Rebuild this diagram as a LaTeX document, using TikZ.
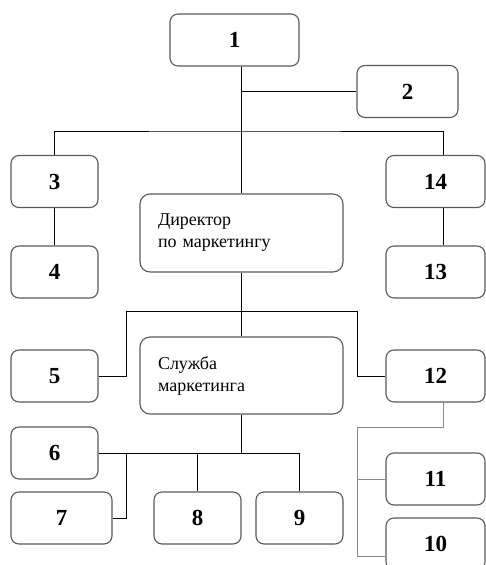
\documentclass[tikz,border=0pt]{standalone}
\usepackage{fontspec}
\setmainfont{Liberation Serif}
\usetikzlibrary{positioning}
\tikzset{
  box/.style={draw=black!65, line width=1.1pt, rounded corners=8pt, minimum height=52pt,
    inner sep=0pt, font=\bfseries\fontsize{23}{24}\selectfont},
  bigbox/.style={draw=black!65, line width=1.1pt, rounded corners=10pt, minimum height=78pt,
    text width=167pt, inner xsep=18pt, align=left, font=\fontsize{18}{22}\selectfont},
  link/.style={line width=1pt},
  softlink/.style={line width=1pt, draw=black!45}
}
\begin{document}
\begin{tikzpicture}[x=1pt,y=-1pt]
        \useasboundingbox (0,0) rectangle (486,565);
        \clip (0,0) rectangle (486,565);
        \node[box, minimum width=129pt] (n1) at (234.5,40) {1};
        \node[box, minimum width=101pt] (n2) at (407.5,91.5) {2};
        \node[box, minimum width=87pt] (n3) at (54.5,181.5) {3};
        \node[box, minimum width=99pt] (n14) at (435.5,181.5) {14};
        \node[bigbox] (dir) at (241.5,233) {Директор\\по маркетингу};
        \node[box, minimum width=87pt] (n4) at (54.5,272) {4};
        \node[box, minimum width=99pt] (n13) at (435.5,272) {13};
        \node[box, minimum width=87pt] (n5) at (54.5,376) {5};
        \node[bigbox, minimum height=77pt] (srv) at (241.5,375.5) {Служба\\маркетинга};
        \node[box, minimum width=99pt] (n12) at (435.5,376) {12};
        \node[box, minimum width=87pt] (n6) at (54.5,453) {6};
        \node[box, minimum width=101pt] (n7) at (61.5,518) {7};
        \node[box, minimum width=87pt] (n8) at (197.5,518) {8};
        \node[box, minimum width=87pt] (n9) at (299.5,518) {9};
        \node[box, minimum width=99pt] (n11) at (435.5,479) {11};
        \node[box, minimum width=99pt] (n10) at (435.5,544) {10};
        \coordinate (top) at (241.5,131);
        \coordinate (b5) at (126,311);
        \coordinate (b12) at (357,311);
        \coordinate (b7) at (126,453);
        \coordinate (b10) at (357,427);
        \draw[link] (n1.south -| dir.north) -- (dir.north);
        \draw[link] (n2.west) -- (n2.west -| dir.north);
        \draw[link] (n3.north) |- (top) -| ([xshift=7.5pt]n14.north);
        \draw[link] (n3) -- (n4);
        \draw[link] ([xshift=7.5pt]n14.south) -- ([xshift=7.5pt]n13.north);
        \draw[link] (dir) -- (srv);
        \draw[link] (n5.east) -| (b5) -- (b12) |- (n12.west);
        \draw[link] (srv.south) -- (srv.south |- n6.east);
        \draw[link] (n6.east) -- (n9.north |- n6.east) -- (n9.north);
        \draw[link] (n8.north) -- (n8.north |- n6.east);
        \draw[link] (n7.east) -| (b7);
        \draw[softlink] ([xshift=7.5pt]n12.south) |- (b10) |- ([yshift=-12pt]n10.west);
        \draw[softlink] (b10 |- n11.west) -- (n11.west);
      \end{tikzpicture}
\end{document}
